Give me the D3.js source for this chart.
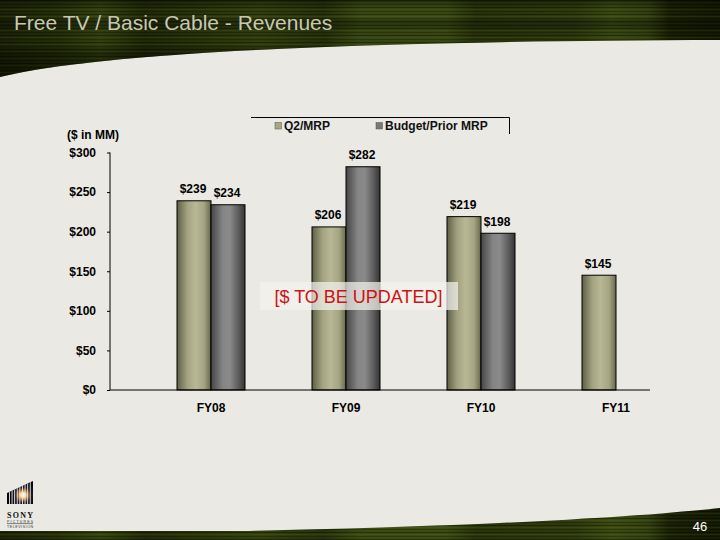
<!DOCTYPE html>
<html>
<head>
<meta charset="utf-8">
<script src="https://cdn.jsdelivr.net/npm/d3@7"></script>
<style>
  html, body { margin: 0; padding: 0; background: #eae9e3; }
  svg { display: block; }
</style>
</head>
<body>
<svg id="chart" width="720" height="540"></svg>
<script>
// ---------- data ----------
const categories = ["FY08", "FY09", "FY10", "FY11"];
const seriesNames = ["Q2/MRP", "Budget/Prior MRP"];
const q2Values = [239, 206, 219, 145];
const budgetValues = [234, 282, 198, null];
const yTicks = [0, 50, 100, 150, 200, 250, 300];
const titleText = "Free TV / Basic Cable - Revenues";
const unitText = "($ in MM)";
const noteText = "[$ TO BE UPDATED]";
const pageNumber = "46";

// ---------- setup ----------
const W = 720, H = 540;
const svg = d3.select("#chart");
const defs = svg.append("defs");
const FONT = "'Liberation Sans', Arial, Helvetica, sans-serif";

svg.append("rect").attr("width", W).attr("height", H).attr("fill", "#eae9e3");

// header / footer textures
const hg = defs.append("linearGradient").attr("id", "bandX").attr("x1", 0).attr("x2", 1).attr("y1", 0).attr("y2", 0);
[[0, "#1c2405"], [0.08, "#253008"], [0.14, "#34420f"], [0.2, "#212a07"], [0.3, "#2c380b"],
 [0.36, "#33400e"], [0.45, "#27320a"], [0.5, "#3a4a12"], [0.62, "#3b4b12"], [0.66, "#29340a"],
 [0.8, "#2e3a0c"], [0.85, "#3b4b12"], [0.9, "#33410f"], [0.93, "#1a2104"], [1, "#141a03"]]
  .forEach(s => hg.append("stop").attr("offset", s[0]).attr("stop-color", s[1]));

const vg = defs.append("linearGradient").attr("id", "bandY").attr("x1", 0).attr("x2", 0).attr("y1", 0).attr("y2", 1);
[[0, 0.45], [0.08, 0.1], [0.22, 0.0], [0.3, 0.35], [0.4, 0.1], [0.55, 0.05], [0.7, 0.35], [1, 0.45]]
  .forEach(s => vg.append("stop").attr("offset", s[0]).attr("stop-color", "#000").attr("stop-opacity", s[1]));

const pat = defs.append("pattern").attr("id", "stripes").attr("width", 8).attr("height", 7)
  .attr("patternUnits", "userSpaceOnUse");
pat.append("rect").attr("y", 0).attr("width", 8).attr("height", 1).attr("fill", "#000").attr("opacity", 0.35);
pat.append("rect").attr("y", 2).attr("width", 8).attr("height", 1).attr("fill", "#8a9a40").attr("opacity", 0.12);
pat.append("rect").attr("y", 4).attr("width", 8).attr("height", 1).attr("fill", "#000").attr("opacity", 0.22);

const headerPath = "M0,0 H720 V40 C400,41 110,50 0,77 Z";
const footerPath = "M0,540 V531 L240,531 C400,528 600,521 720,508 V540 Z";
[headerPath, footerPath].forEach(p => {
  svg.append("path").attr("d", p).attr("fill", "url(#bandX)");
  svg.append("path").attr("d", p).attr("fill", "url(#stripes)");
});
svg.append("path").attr("d", headerPath).attr("fill", "url(#bandY)");

svg.append("text").attr("x", 14).attr("y", 30)
  .attr("font-family", FONT).attr("font-size", 21).attr("fill", "#c8c8b2")
  .text(titleText);

svg.append("text").attr("x", 700).attr("y", 531).attr("text-anchor", "middle")
  .attr("font-family", "'Liberation Sans Narrow', 'Arial Narrow', " + FONT)
  .attr("font-size", 13).attr("fill", "#ffffff").text(pageNumber);

// Sony logo
const lg = defs.append("radialGradient").attr("id", "logoGlow").attr("cx", 0.62).attr("cy", 0.6).attr("r", 0.55);
[[0, "#ffffff"], [0.18, "#f3e2b0"], [0.35, "#b8702a"], [0.55, "#1c1c30"], [1, "#03040c"]]
  .forEach(s => lg.append("stop").attr("offset", s[0]).attr("stop-color", s[1]));
defs.append("clipPath").attr("id", "logoClip").append("path").attr("d", "M7,493 L33,481 L33,504 L7,504 Z");
const logo = svg.append("g").attr("clip-path", "url(#logoClip)");
logo.append("rect").attr("x", 7).attr("y", 480).attr("width", 26).attr("height", 25).attr("fill", "url(#logoGlow)");
d3.range(9).forEach(i => {
  logo.append("rect").attr("x", 9 + i * 2.6).attr("y", 480).attr("width", 0.9).attr("height", 25).attr("fill", "#eae9e3");
});
svg.append("text").attr("x", 7).attr("y", 518).attr("font-family", "'Liberation Serif', 'Times New Roman', serif")
  .attr("font-weight", "bold").attr("font-size", 8).attr("textLength", 26).attr("fill", "#111").text("SONY");
svg.append("text").attr("x", 7).attr("y", 522.5).attr("font-family", FONT)
  .attr("font-size", 3.5).attr("textLength", 26).attr("fill", "#333").text("PICTURES");
svg.append("line").attr("x1", 7).attr("x2", 33).attr("y1", 523.6).attr("y2", 523.6).attr("stroke", "#333").attr("stroke-width", 0.6);
svg.append("text").attr("x", 7).attr("y", 527.5).attr("font-family", FONT)
  .attr("font-size", 3.5).attr("textLength", 26).attr("fill", "#333").text("TELEVISION");

// ---------- chart ----------
const plotLeft = 110, plotRight = 650, plotTop = 152.5, plotBottom = 390;

const y = d3.scaleLinear().domain([0, 300]).range([plotBottom, plotTop]);
const x0 = d3.scaleBand().domain(categories).range([143.5, 683.5])
  .paddingInner(67 / 135).paddingOuter(67 / 270);
const x1 = d3.scaleBand().domain(seriesNames).range([0, x0.bandwidth()]);

const gQ = defs.append("linearGradient").attr("id", "gradQ2").attr("x1", 0).attr("x2", 1).attr("y1", 0).attr("y2", 0);
[[0, "#5e5e45"], [0.3, "#a2a281"], [0.55, "#b8b895"], [0.8, "#a4a483"], [1, "#66664b"]]
  .forEach(s => gQ.append("stop").attr("offset", s[0]).attr("stop-color", s[1]));
const gB = defs.append("linearGradient").attr("id", "gradBud").attr("x1", 0).attr("x2", 1).attr("y1", 0).attr("y2", 0);
[[0, "#464646"], [0.35, "#858585"], [0.55, "#8a8a8a"], [0.8, "#5e5e5e"], [1, "#343434"]]
  .forEach(s => gB.append("stop").attr("offset", s[0]).attr("stop-color", s[1]));
const fills = { "Q2/MRP": "url(#gradQ2)", "Budget/Prior MRP": "url(#gradBud)" };
const legendFills = { "Q2/MRP": "#a7a786", "Budget/Prior MRP": "#797979" };

const rows = categories.map((c, i) => ({
  cat: c,
  vals: [
    { s: seriesNames[0], v: q2Values[i] },
    { s: seriesNames[1], v: budgetValues[i] }
  ].filter(d => d.v != null)
}));

const groups = svg.append("g").selectAll("g").data(rows).join("g")
  .attr("transform", d => `translate(${x0(d.cat)},0)`);

groups.selectAll("rect").data(d => d.vals).join("rect")
  .attr("x", d => x1(d.s))
  .attr("y", d => y(d.v))
  .attr("width", x1.bandwidth())
  .attr("height", d => y(0) - y(d.v))
  .attr("fill", d => fills[d.s])
  .attr("stroke", "#000").attr("stroke-width", 1);

groups.selectAll("text.val").data(d => d.vals).join("text").attr("class", "val")
  .attr("x", d => x1(d.s) + x1.bandwidth() / 2 - 1)
  .attr("y", d => y(d.v) - 7.5)
  .attr("text-anchor", "middle")
  .attr("font-family", FONT).attr("font-weight", "bold").attr("font-size", 12).attr("fill", "#000")
  .text(d => "$" + d.v);

// y axis
const yAxis = svg.append("g").attr("transform", `translate(${plotLeft},0)`)
  .call(d3.axisLeft(y).tickValues(yTicks).tickFormat(d => "$" + d).tickSize(3).tickPadding(11));
yAxis.select(".domain").attr("d", `M0,${plotTop}V${plotBottom}`).attr("stroke", "#000");
yAxis.selectAll(".tick line").attr("stroke", "#000");
yAxis.selectAll(".tick text").attr("font-family", FONT).attr("font-weight", "bold")
  .attr("font-size", 12).attr("fill", "#000");

// x axis
const xAxisG = svg.append("g").attr("transform", `translate(0,${plotBottom})`);
xAxisG.append("line").attr("x1", plotLeft).attr("x2", plotRight).attr("stroke", "#000");
xAxisG.selectAll("text").data(categories).join("text")
  .attr("x", d => x0(d) + x0.bandwidth() / 2)
  .attr("y", 22)
  .attr("text-anchor", "middle")
  .attr("font-family", FONT).attr("font-weight", "bold").attr("font-size", 12).attr("fill", "#000")
  .text(d => d);

svg.append("text").attr("x", 67).attr("y", 139)
  .attr("font-family", FONT).attr("font-weight", "bold").attr("font-size", 12).attr("fill", "#000")
  .text(unitText);

// legend
const legend = svg.append("g");
legend.append("path").attr("d", "M251,117.5 H509.5 V134").attr("fill", "none").attr("stroke", "#000");
const legendX = [275, 376];
seriesNames.forEach((s, i) => {
  legend.append("rect").attr("x", legendX[i]).attr("y", 122.5).attr("width", 6.5).attr("height", 6.5)
    .attr("fill", legendFills[s]).attr("stroke", "#555").attr("stroke-width", 0.5);
  legend.append("text").attr("x", legendX[i] + 9).attr("y", 129.5)
    .attr("font-family", FONT).attr("font-weight", "bold").attr("font-size", 12).attr("fill", "#111")
    .text(s);
});

// overlay note
svg.append("rect").attr("x", 260).attr("y", 282).attr("width", 198).attr("height", 28)
  .attr("fill", "#f4f3ef").attr("opacity", 0.72);
svg.append("text").attr("x", 358.5).attr("y", 302.5).attr("text-anchor", "middle")
  .attr("font-family", FONT).attr("font-size", 18).attr("fill", "#cc1414")
  .text(noteText);
</script>
</body>
</html>
